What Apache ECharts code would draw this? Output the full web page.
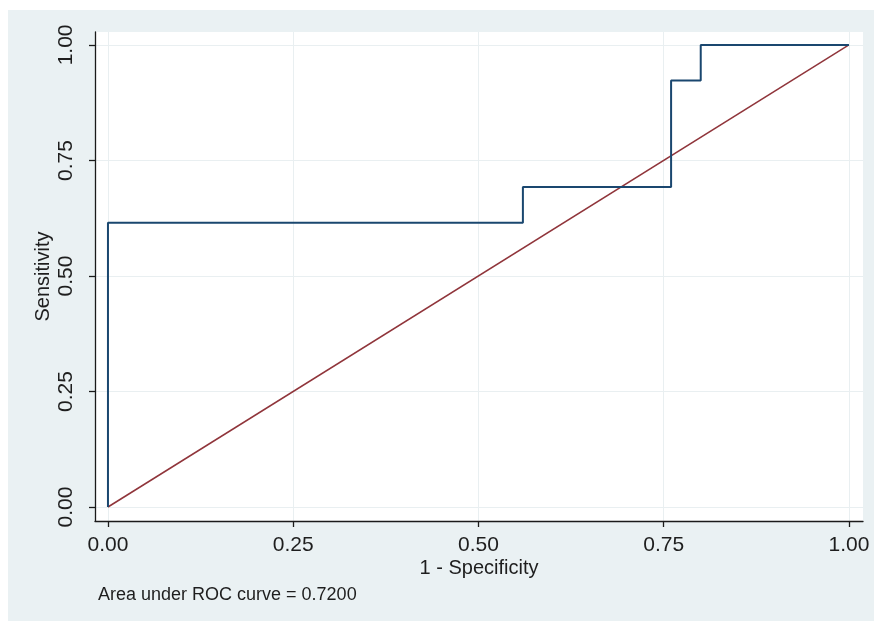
<!DOCTYPE html>
<html>
<head>
<meta charset="utf-8">
<script src="https://cdn.jsdelivr.net/npm/echarts@6/dist/echarts.min.js"></script>
<style>
  html, body { margin: 0; padding: 0; background: #ffffff; }
  #chart { position: absolute; left: 8px; top: 10px; width: 866px; height: 611px; }
</style>
</head>
<body>
<div id="chart"></div>
<script>
// ROC curve points (1 - specificity, sensitivity)
const fpr = [0, 0, 0.56, 0.56, 0.76, 0.76, 0.80, 0.80, 1.00];
const tpr = [0, 0.6154, 0.6154, 0.6923, 0.6923, 0.9231, 0.9231, 1.00, 1.00];
// Chance diagonal
const refX = [0, 1];
const refY = [0, 1];
// Tick values / labels shared by both axes
const tickValues = [0, 0.25, 0.5, 0.75, 1];
const tickLabels = ['0.00', '0.25', '0.50', '0.75', '1.00'];
const aucText = 'Area under ROC curve = 0.7200';

// Plot region extends a little beyond [0, 1] on each side
const xRange = [-0.0175, 1.019];
const yRange = [-0.0303, 1.028];

const chart = echarts.init(document.getElementById('chart'));

const fmt = v => {
  const i = tickValues.findIndex(t => Math.abs(t - v) < 1e-9);
  return i >= 0 ? tickLabels[i] : '';
};

const axisCommon = {
  type: 'value',
  nameMoveOverlap: false,
  axisLine: { show: true, onZero: false, lineStyle: { color: '#1b1b1b', width: 1.3 } },
  axisTick: { show: true, length: 6, lineStyle: { color: '#1b1b1b', width: 1.3 }, customValues: tickValues },
  splitLine: { show: true, lineStyle: { color: '#e9eff1', width: 1 } },
  nameTextStyle: { fontFamily: 'Liberation Sans', fontSize: 20, color: '#1e1e1e' }
};

chart.setOption({
  backgroundColor: '#eaf1f3',
  animation: false,
  grid: {
    left: 87, top: 22, right: 11, bottom: 100,
    show: true, backgroundColor: '#ffffff', borderWidth: 0
  },
  xAxis: Object.assign({}, axisCommon, {
    min: xRange[0], max: xRange[1],
    name: '1 - Specificity', nameLocation: 'middle', nameGap: 37,
    axisLabel: {
      customValues: tickValues, formatter: fmt, margin: 14,
      fontFamily: 'Liberation Sans', fontSize: 21, color: '#1e1e1e'
    }
  }),
  yAxis: Object.assign({}, axisCommon, {
    min: yRange[0], max: yRange[1],
    name: 'Sensitivity', nameLocation: 'middle', nameGap: 42,
    axisLabel: {
      customValues: tickValues, formatter: fmt, margin: 18, rotate: 90,
      fontFamily: 'Liberation Sans', fontSize: 21, color: '#1e1e1e'
    }
  }),
  graphic: [{
    type: 'text', left: 90, top: 576,
    style: { text: aucText, fontFamily: 'Liberation Sans', fontSize: 18, fill: '#1e1e1e' }
  }],
  series: [
    {
      type: 'line', data: fpr.map((x, i) => [x, tpr[i]]),
      showSymbol: false, symbol: 'none',
      lineStyle: { color: '#1a476f', width: 2 }, z: 3
    },
    {
      type: 'line', data: refX.map((x, i) => [x, refY[i]]),
      showSymbol: false, symbol: 'none',
      lineStyle: { color: '#90353b', width: 1.5 }, z: 2
    }
  ]
});
</script>
</body>
</html>
